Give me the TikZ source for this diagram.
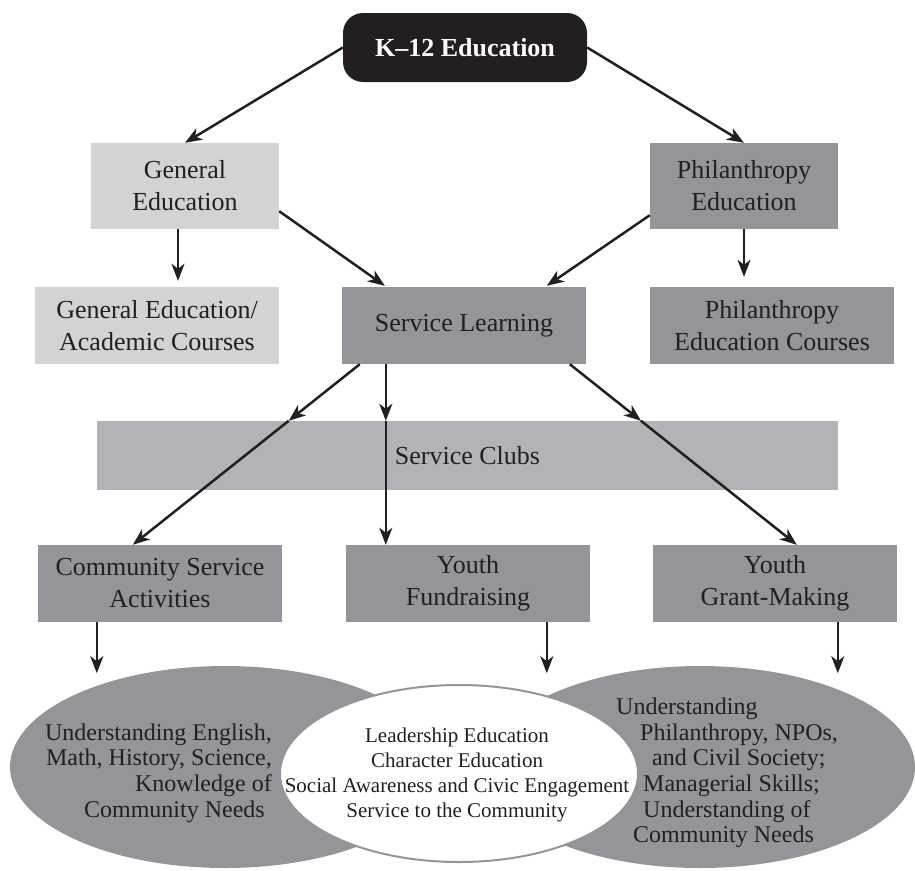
\documentclass[tikz,border=0pt]{standalone}
\usepackage{fontspec}
\setmainfont{Liberation Serif}
\usetikzlibrary{arrows.meta,calc,shapes.geometric}
\definecolor{ink}{HTML}{231F20}
\definecolor{boxlight}{HTML}{D1D3D4}
\definecolor{boxdark}{HTML}{939598}
\definecolor{boxmid}{HTML}{B1B3B6}
\begin{document}
\begin{tikzpicture}[x=1pt,y=-1pt,
  box/.style={inner sep=0pt, align=center, text=ink, font=\fontsize{26}{32}\selectfont},
  lightbox/.style={box, fill=boxlight},
  darkbox/.style={box, fill=boxdark},
  midbox/.style={box, fill=boxmid},
  tall/.style={minimum width=188pt, minimum height=86pt},
  wide/.style={minimum width=244pt, minimum height=77pt},
  k12box/.style={fill=ink, rounded corners=20pt, minimum width=244pt, minimum height=69pt,
    text=white, inner sep=0pt, font=\bfseries\fontsize{26}{32}\selectfont},
  arr/.style={draw=ink, line width=2.5pt, -{Stealth[length=17pt,width=13pt,inset=5pt]}},
  grayell/.style={ellipse, fill=boxdark, inner sep=0pt, minimum width=430pt, minimum height=202pt},
  whiteell/.style={ellipse, fill=white, draw=boxdark, line width=2pt, inner sep=0pt,
    minimum width=358pt, minimum height=177pt},
  elltext/.style={inner sep=0pt, text=ink, font=\fontsize{24}{25.6}\selectfont},
  midtext/.style={inner sep=0pt, text=ink, align=center, font=\fontsize{21}{25}\selectfont}
]
\useasboundingbox (0,0) rectangle (915,870);

% boxes
\node[k12box] (k12) at (465,47.5) {K--12 Education};
\node[lightbox, tall] (ge) at (185,186) {General\\Education};
\node[darkbox, tall] (pe) at (744,186) {Philanthropy\\Education};
\node[lightbox, wide] (gec) at (157,325.5) {General Education/\\Academic Courses};
\node[darkbox, wide] (sl) at (464,325.5) {Service Learning};
\node[darkbox, wide] (pec) at (772,325.5) {Philanthropy\\Education Courses};
\node[midbox, minimum width=741pt, minimum height=69pt] (sc) at (467.5,455.5) {Service Clubs};
\node[darkbox, wide] (csa) at (160,583.5) {Community Service\\Activities};
\node[darkbox, wide] (yf) at (468,583.5) {Youth\\Fundraising};
\node[darkbox, wide] (ygm) at (775,583.5) {Youth\\Grant-Making};

% ellipses
\node[grayell] (el) at (225,767) {};
\node[grayell] (er) at (700,767) {};
\node[whiteell] (ew) at (459,773.5) {};

\node[elltext, align=right, anchor=east] (elt) at (272,773)
  {Understanding English,\\Math, History, Science,\hspace*{10pt}\\Knowledge of\hspace*{12pt}\\Community Needs\hspace*{7pt}};
\node[elltext, align=left, anchor=west] (ert) at (616,773)
  {Understanding\\\hspace*{24pt}Philanthropy, NPOs,\\\hspace*{36pt}and Civil Society;\\\hspace*{27pt}Managerial Skills;\\\hspace*{27pt}Understanding of\\\hspace*{17pt}Community Needs};
\node[midtext] (ewt) at (457,774.6)
  {Leadership Education\\Character Education\\Social Awareness and Civic Engagement\\Service to the Community};

% connector end points
\coordinate (geR) at ($(ge.south east)+(0,-18)$);
\coordinate (slL) at ($(sl.north west)+(43,-1)$);
\coordinate (peL) at ($(pe.south west)+(0,-14)$);
\coordinate (slR) at ($(sl.north west)+(205,-1)$);
\coordinate (geB) at ($(ge.south)+(-7,0)$);
\coordinate (gecT) at ($(gec.north)+(21,-6)$);
\coordinate (pecT) at ($(pec.north)+(-28,-10)$);
\coordinate (slB1) at ($(sl.south west)+(18,0)$);
\coordinate (slB2) at ($(sl.south west)+(44,0)$);
\coordinate (slB3) at ($(sl.south west)+(228,0)$);
\coordinate (csaT) at ($(csa.north west)+(95,0)$);
\coordinate (yfT) at ($(yf.north west)+(40,0)$);
\coordinate (ygmT) at ($(ygm.north west)+(144,0)$);
\coordinate (csaB) at ($(csa.south west)+(59,0)$);
\coordinate (yfB) at ($(yf.south west)+(201,0)$);
\coordinate (ygmB) at ($(ygm.south west)+(185,0)$);
\coordinate (elT) at ($(csaB)+(0,51)$);
\coordinate (ewT) at ($(yfB)+(0,51)$);
\coordinate (erT) at ($(ygmB)+(0,51)$);
\coordinate (m1) at (intersection of slB1--csaT and sc.north west--sc.north east);
\coordinate (m2) at (slB2 |- sc.north);
\coordinate (m3) at (intersection of slB3--ygmT and sc.north west--sc.north east);

% connectors
\draw[arr] (k12.west) -- (ge.north);
\draw[arr] (k12.east) -- (pe.north);
\draw[arr] (geR) -- (slL);
\draw[arr] (peL) -- (slR);
\draw[arr] (geB) -- (gecT);
\draw[arr] (pe.south) -- (pecT);
\draw[arr] (slB1) -- (m1);
\draw[arr] (m1) -- (csaT);
\draw[arr] (slB2) -- (m2);
\draw[arr] (m2) -- (yfT);
\draw[arr] (slB3) -- (m3);
\draw[arr] (m3) -- (ygmT);
\draw[arr] (csaB) -- (elT);
\draw[arr] (yfB) -- (ewT);
\draw[arr] (ygmB) -- (erT);
\end{tikzpicture}
\end{document}
